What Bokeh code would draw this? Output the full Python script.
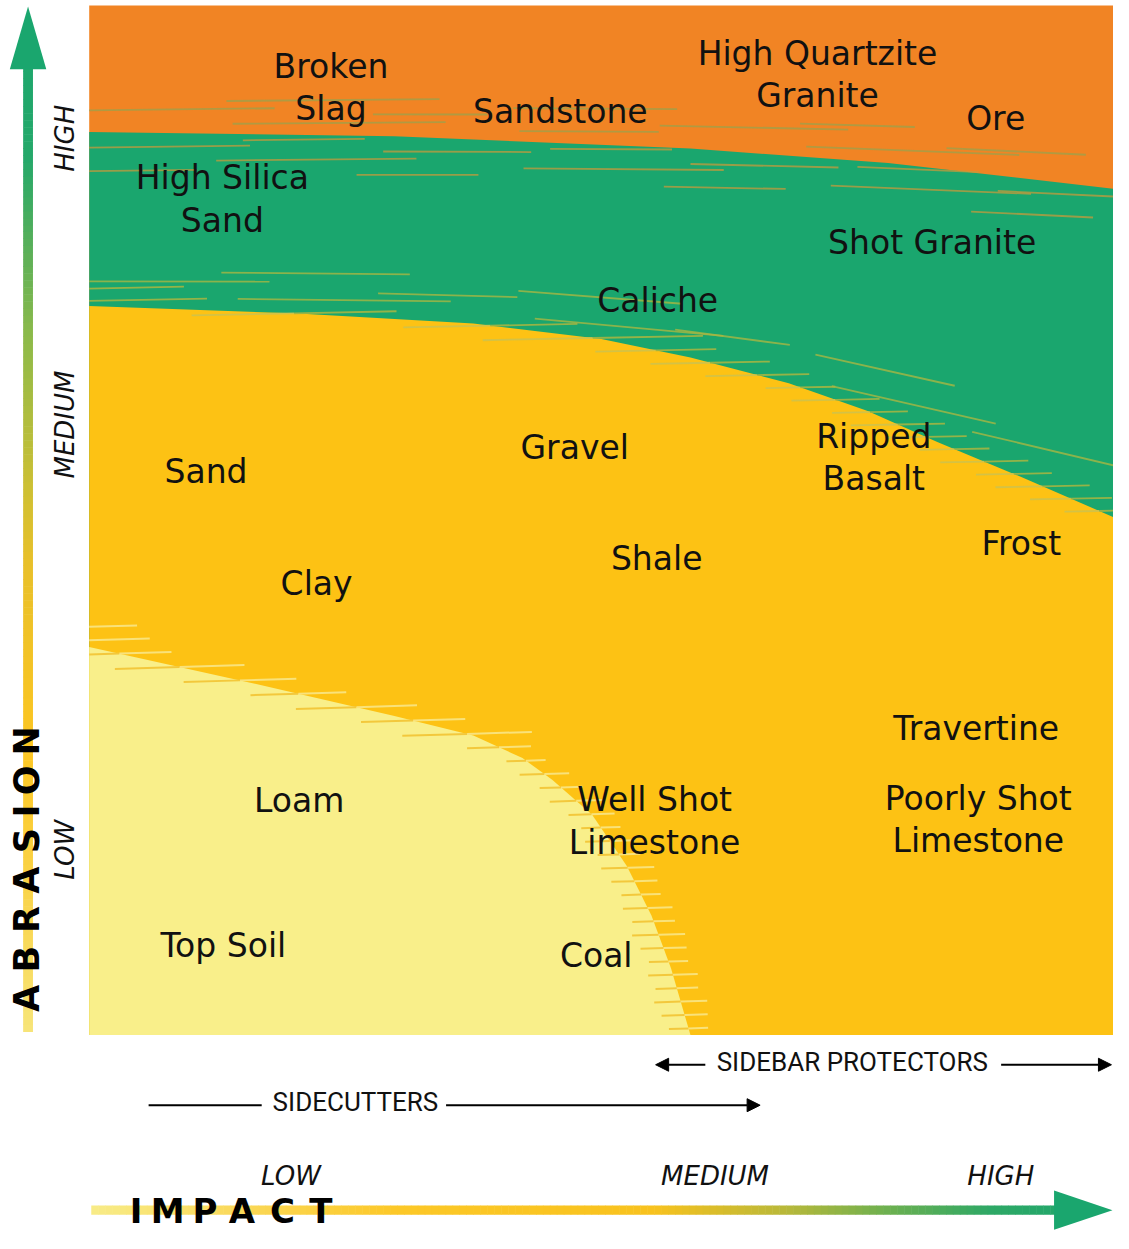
import numpy as np
from bokeh.plotting import figure
from bokeh.models import Range1d, Arrow, NormalHead
from bokeh.core.properties import value
from bokeh.embed import file_html
from bokeh.resources import INLINE

# ---------------- data ----------------
rock_names = ["Broken\nSlag", "Sandstone", "High Quartzite\nGranite", "Ore",
              "High Silica\nSand", "Shot Granite", "Caliche", "Gravel",
              "Ripped\nBasalt", "Sand", "Frost", "Shale", "Clay", "Travertine",
              "Loam", "Well Shot\nLimestone", "Poorly Shot\nLimestone",
              "Top Soil", "Coal"]
rock_impact = [2.36, 4.60, 7.11, 8.85, 1.30, 8.23, 5.55, 4.74, 7.66, 1.14,
               9.10, 5.54, 2.22, 8.66, 2.05, 5.52, 8.68, 1.31, 4.95]
rock_abrasion = [9.20, 8.97, 9.33, 8.90, 8.12, 7.70, 7.13, 5.71, 5.61, 5.47,
                 4.77, 4.63, 4.39, 2.98, 2.28, 2.08, 2.09, 0.87, 0.77]

# zone boundaries (impact, abrasion)
high_zone_x = [0, 2.98, 5.87, 7.80, 10]
high_zone_y = [8.77, 8.73, 8.61, 8.47, 8.22]
med_zone_x = [0, 2.0, 3.75, 5.0, 5.87, 6.83, 7.6, 8.28, 9.1, 10]
med_zone_y = [7.08, 7.01, 6.91, 6.76, 6.58, 6.33, 6.06, 5.76, 5.42, 5.03]
low_zone_x = [0, 1.54, 2.98, 3.75, 4.23, 4.52, 4.91, 5.25, 5.49, 5.68, 5.87]
low_zone_y = [3.77, 3.43, 3.10, 2.91, 2.69, 2.48, 2.14, 1.64, 1.16, 0.65, 0.0]

level_names = ["LOW", "MEDIUM", "HIGH"]
abrasion_level_pos = [1.80, 5.93, 8.71]
impact_level_pos = [1.97, 6.11, 8.90]

sidecutters_span = [0.58, 6.55]
sidebar_span = [5.53, 9.98]

# ---------------- styles ----------------
ORANGE = "#F18424"
GREEN = "#1AA66E"
YELLOW = "#FDC214"
LIGHT = "#F9EF8A"
FONT = value("DejaVu Sans")

p = figure(width=1113, height=1233, x_range=Range1d(-0.866, 10.0),
           y_range=Range1d(-1.927, 10.048), output_backend="svg",
           toolbar_location=None, min_border=0,
           x_axis_location=None, y_axis_location=None)
p.grid.visible = False
p.outline_line_color = None
p.background_fill_color = "white"
p.border_fill_color = "white"

# ---------------- zones ----------------
p.quad(left=[0], right=[10], bottom=[0], top=[10], fill_color=ORANGE, line_color=None)
p.patch(high_zone_x + [10, 0], high_zone_y + [0, 0], fill_color=GREEN, line_color=None)
p.patch(med_zone_x + [10, 0], med_zone_y + [0, 0], fill_color=YELLOW, line_color=None)
p.patch(low_zone_x + [0], low_zone_y + [0], fill_color=LIGHT, line_color=None)


def crossing_strokes(bx, by, dy, lmin, lmax, rise, extra=2):
    bx = np.asarray(bx, float)
    by = np.asarray(by, float)
    levels = np.arange(by.min() + dy * 0.5, by.max() + dy * extra, dy)
    left, right = ([], []), ([], [])
    for k, yl in enumerate(levels):
        xb = np.interp(yl, by[::-1], bx[::-1])
        h = 0.05
        sl = (np.interp(xb + h, bx, by) - np.interp(xb - h, bx, by)) / (2 * h)
        L = float(np.clip(2.2 * dy / max(abs(sl), 1e-3), lmin, lmax))
        L *= 0.85 + 0.3 * ((k * 7) % 5) / 4
        x0 = max(0.0, xb - 0.5 * L)
        x1 = min(10.0, xb + 0.5 * L)
        if xb > x0:
            left[0].append([x0, xb])
            left[1].append([yl - rise * (xb - x0), yl])
        if x1 > xb:
            right[0].append([xb, x1])
            right[1].append([yl, yl + rise * (x1 - xb)])
    return left, right


def band_strokes(bx, by, offsets, spacing, length, rise):
    xs, ys = [], []
    for j, off in enumerate(offsets):
        start = (j * 1.37) % spacing - spacing * 0.5
        for x0 in np.arange(start, 10, spacing):
            L = length * (0.7 + 0.6 * ((j * 3 + int(x0 * 10)) % 5) / 4)
            a, b = max(0.0, x0), min(10.0, x0 + L)
            if b - a < 0.3:
                continue
            ya = np.interp(a, bx, by) + off
            yb = np.interp(b, bx, by) * 0.6 + np.interp(a, bx, by) * 0.4 + off + rise * (b - a)
            xs.append([a, b])
            ys.append([ya, yb])
    return xs, ys


# orange / green feathering
hx, hy = band_strokes(high_zone_x, high_zone_y, [0.10, 0.21, 0.32], 2.8, 1.6, 0.02)
p.multi_line(hx, hy, line_color="#9aa24c", line_width=1.8, line_alpha=0.75)
hx, hy = band_strokes(high_zone_x, high_zone_y, [-0.06, -0.15, -0.26, -0.38], 3.0, 1.7, 0.02)
p.multi_line(hx, hy, line_color="#c49a3c", line_width=1.8, line_alpha=0.75)

# green / yellow feathering
(lx, ly), (rx, ry) = crossing_strokes(med_zone_x, med_zone_y, 0.12, 0.8, 2.0, 0.02)
p.multi_line(lx, ly, line_color="#cfc24a", line_width=1.8, line_alpha=0.9)
p.multi_line(rx, ry, line_color="#a3b542", line_width=1.8, line_alpha=0.9)
hx, hy = band_strokes(med_zone_x, med_zone_y, [0.12, 0.24, 0.37], 2.9, 1.6, 0.02)
p.multi_line(hx, hy, line_color="#a8b642", line_width=1.8, line_alpha=0.8)

# low zone feathering
(lx, ly), (rx, ry) = crossing_strokes(low_zone_x, low_zone_y, 0.13, 0.45, 1.1, 0.03)
p.multi_line(lx, ly, line_color="#f3c83c", line_width=2)
p.multi_line(rx, ry, line_color="#f9e27a", line_width=2)

# ---------------- rock labels ----------------
lab_x, lab_y, lab_t = [], [], []
for name, xi, yi in zip(rock_names, rock_impact, rock_abrasion):
    lines = name.split("\n")
    n = len(lines)
    for k, t in enumerate(lines):
        lab_x.append(xi)
        lab_y.append(yi + (n - 1) * 0.205 - k * 0.41)
        lab_t.append(t)
p.text(lab_x, lab_y, text=lab_t, text_font=FONT, text_font_size="33px",
       text_align="center", text_baseline="middle", text_color="#111111")


# ---------------- gradient arrows ----------------
def grad(pos, stops, cols):
    rgb = np.array([[int(c[i:i + 2], 16) for i in (1, 3, 5)] for c in cols], float)
    out = []
    for t in pos:
        r = [int(round(np.interp(t, stops, rgb[:, k]))) for k in range(3)]
        out.append("#%02x%02x%02x" % tuple(r))
    return out


# vertical (abrasion)
vx, vhw = -0.597, 0.048
vb = np.linspace(0.03, 9.42, 140)
vcols = grad((vb[:-1] + vb[1:]) / 2,
             [0, 1.2, 2.8, 4.6, 5.2, 6.8, 7.6, 8.5, 10],
             ["#f7e57a", "#f9d650", "#fcc622", "#e8c02a", "#d2c032",
              "#8cba4a", "#5cb058", "#25a86a", "#1aa66e"])
p.quad(left=vx - vhw, right=vx + vhw, bottom=vb[:-1], top=vb[1:] + 0.005,
       fill_color=vcols, line_color=None)
p.patch([vx - 0.178, vx + 0.178, vx], [9.38, 9.38, 9.99], fill_color=GREEN, line_color=None)

# horizontal (impact)
hyc, hhw = -1.70, 0.045
hb = np.linspace(0.02, 9.45, 140)
hcols = grad((hb[:-1] + hb[1:]) / 2,
             [0, 1.5, 3.0, 5.5, 6.8, 7.8, 8.8, 10],
             ["#f8ec88", "#fad858", "#fcc828", "#f8c21e", "#b8b83a",
              "#6cb050", "#2ea866", "#1aa66e"])
p.quad(left=hb[:-1], right=hb[1:] + 0.005, bottom=hyc - hhw, top=hyc + hhw,
       fill_color=hcols, line_color=None)
p.patch([9.42, 9.42, 9.99], [hyc - 0.19, hyc + 0.19, hyc], fill_color=GREEN, line_color=None)

# axis titles with letter spacing
abr_letters = list("ABRASION")
abr_pos = [0.355, 0.738, 1.122, 1.505, 1.889, 2.176, 2.474, 2.857]
p.text([-0.606] * 8, abr_pos, text=abr_letters, angle=np.pi / 2,
       text_font=FONT, text_font_style="bold", text_font_size="35px",
       text_align="center", text_baseline="middle", text_color="black")
imp_letters = list("IMPACT")
imp_pos = [0.457, 0.765, 1.131, 1.492, 1.886, 2.262]
p.text(imp_pos, [-1.71] * 6, text=imp_letters,
       text_font=FONT, text_font_style="bold", text_font_size="34px",
       text_align="center", text_baseline="middle", text_color="black")

# level labels
p.text([-0.235] * 3, abrasion_level_pos, text=level_names, angle=np.pi / 2,
       text_font=FONT, text_font_style="italic", text_font_size="26px",
       text_align="center", text_baseline="middle", text_color="#111111")
p.text(impact_level_pos, [-1.37] * 3, text=level_names,
       text_font=FONT, text_font_style="italic", text_font_size="26px",
       text_align="center", text_baseline="middle", text_color="#111111")

# ---------------- tool ranges ----------------
SMALL = value("Roboto")
# sidebar protectors
p.text([7.45], [-0.262], text=["SIDEBAR PROTECTORS"], text_font=SMALL,
       text_font_size="26px", text_align="center", text_baseline="middle",
       text_color="#111111")
p.add_layout(Arrow(end=NormalHead(size=13, fill_color="black", line_color="black"),
                   x_start=6.015, y_start=-0.288, x_end=sidebar_span[0], y_end=-0.288,
                   line_width=2, line_color="black"))
p.add_layout(Arrow(end=NormalHead(size=13, fill_color="black", line_color="black"),
                   x_start=8.903, y_start=-0.288, x_end=sidebar_span[1], y_end=-0.288,
                   line_width=2, line_color="black"))
# sidecutters
p.text([2.599], [-0.652], text=["SIDECUTTERS"], text_font=SMALL,
       text_font_size="26px", text_align="center", text_baseline="middle",
       text_color="#111111")
p.segment(x0=[sidecutters_span[0]], y0=[-0.681], x1=[1.684], y1=[-0.681],
          line_width=2, line_color="black")
p.add_layout(Arrow(end=NormalHead(size=13, fill_color="black", line_color="black"),
                   x_start=3.484, y_start=-0.681, x_end=sidecutters_span[1], y_end=-0.681,
                   line_width=2, line_color="black"))

open("out.html", "w").write(file_html(p, INLINE))
